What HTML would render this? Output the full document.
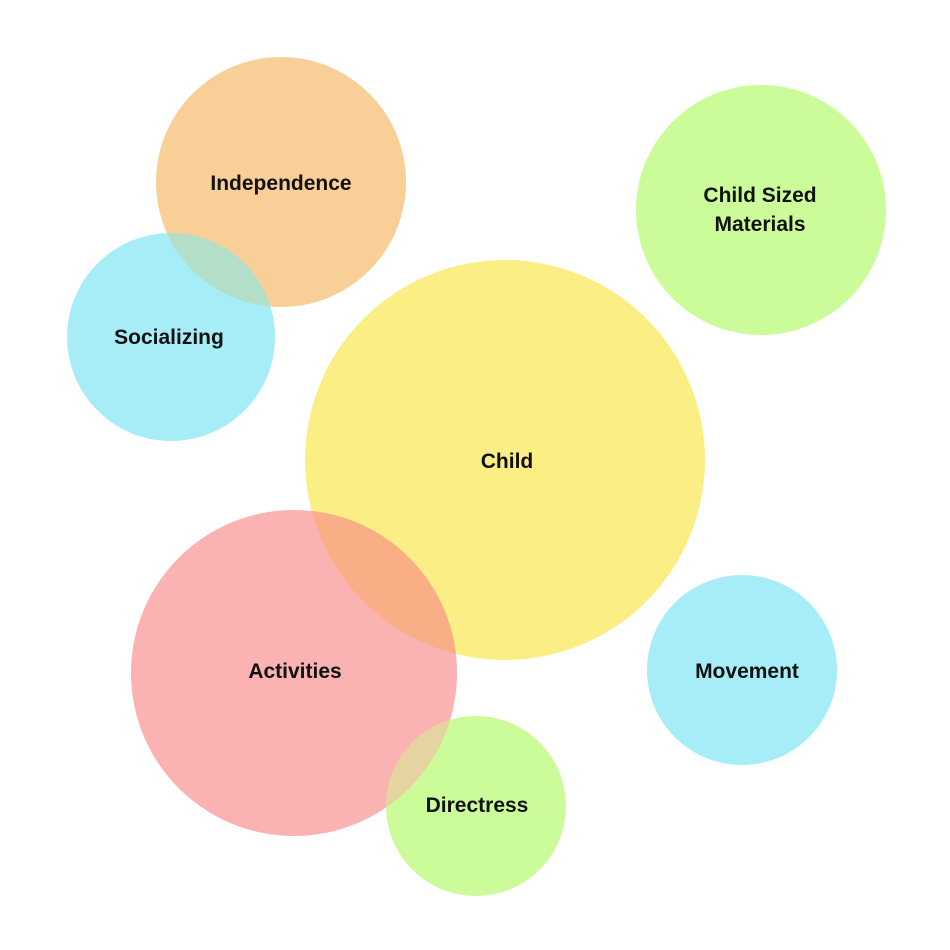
<!DOCTYPE html>
<html><head><meta charset="utf-8"><style>
html,body{margin:0;padding:0;background:#fff;width:950px;height:950px;overflow:hidden}
text{font-family:"Liberation Sans",sans-serif;font-size:21px;font-weight:bold;fill:#111;text-anchor:middle}
</style></head><body>
<svg width="950" height="950" viewBox="0 0 950 950" xmlns="http://www.w3.org/2000/svg">
<defs>
<clipPath id="cInd"><circle cx="281" cy="182" r="125"/></clipPath>
<clipPath id="cChild"><circle cx="505" cy="460" r="200"/></clipPath>
<clipPath id="cAct"><circle cx="294" cy="673" r="163"/></clipPath>
</defs>
<circle cx="281" cy="182" r="125" fill="#f9cf98"/>
<circle cx="171" cy="337" r="104" fill="#a6edf8"/>
<circle cx="171" cy="337" r="104" fill="#b3dfc8" clip-path="url(#cInd)"/>
<circle cx="761" cy="210" r="125" fill="#ccfc9a"/>
<circle cx="505" cy="460" r="200" fill="#faee85"/>
<circle cx="294" cy="673" r="163" fill="#fbb2b3"/>
<circle cx="294" cy="673" r="163" fill="#f9ae85" clip-path="url(#cChild)"/>
<circle cx="742" cy="670" r="95" fill="#a6edf8"/>
<circle cx="476" cy="806" r="90" fill="#ccfc9a"/>
<circle cx="476" cy="806" r="90" fill="#e6d3a2" clip-path="url(#cAct)"/>
<text x="281" y="190">Independence</text>
<text x="169" y="344">Socializing</text>
<text x="760" y="202">Child Sized</text>
<text x="760" y="231">Materials</text>
<text x="507" y="468">Child</text>
<text x="295" y="678">Activities</text>
<text x="747" y="678">Movement</text>
<text x="477" y="812">Directress</text>
</svg>
</body></html>
